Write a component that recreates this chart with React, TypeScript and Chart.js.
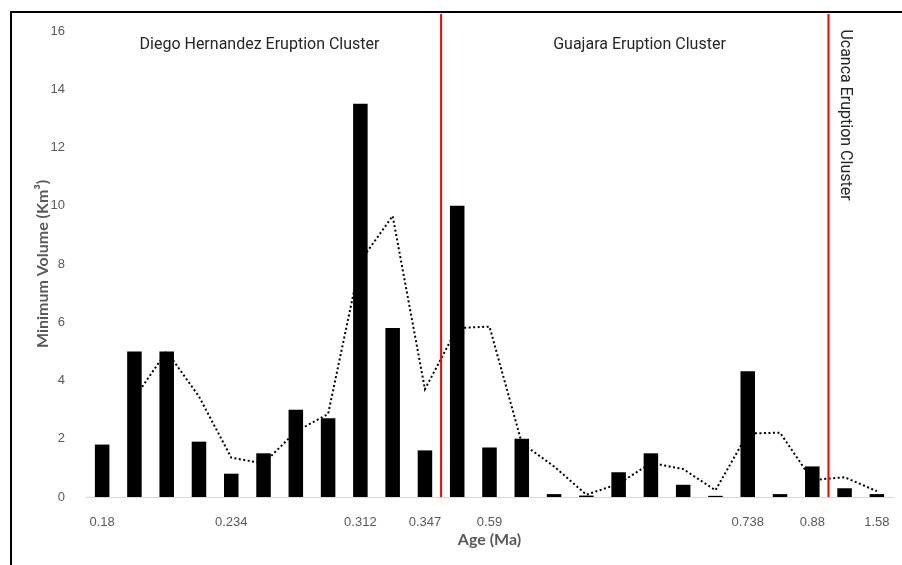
import React, { useEffect, useRef } from "react";
import { Chart, registerables } from "chart.js";

Chart.register(...registerables);

const categories: string[] = [
  "0.18", "", "", "", "0.234", "", "", "", "0.312", "", "0.347", "", "0.59",
  "", "", "", "", "", "", "", "0.738", "", "0.88", "", "1.58",
];

const volumes: number[] = [
  1.8, 5.0, 5.0, 1.9, 0.8, 1.5, 3.0, 2.7, 13.5, 5.8, 1.6, 10.0, 1.7,
  2.0, 0.1, 0.05, 0.85, 1.5, 0.42, 0.04, 4.32, 0.1, 1.05, 0.3, 0.1,
];

// 2-period moving average trendline
const movingAvg: (number | null)[] = [
  null, 3.4, 5.0, 3.45, 1.35, 1.15, 2.25, 2.85, 8.1, 9.65, 3.7, 5.8, 5.85,
  1.85, 1.05, 0.08, 0.45, 1.17, 0.96, 0.23, 2.18, 2.21, 0.58, 0.68, 0.2,
];

// cluster boundaries: between these category index pairs
const boundaries: [number, number][] = [
  [10, 11],
  [22, 23],
];

const clusterLabels = [
  { text: "Diego Hernandez Eruption Cluster", x: 259.5, y: 45, rotate: false },
  { text: "Guajara Eruption Cluster", x: 639.5, y: 45, rotate: false },
  { text: "Ucanca Eruption Cluster", x: 845, y: 115, rotate: true },
];

const yTickMax = 16;
const yTickStep = 2;

const GRAY = "#595959";

export default function App() {
  const ref = useRef<HTMLCanvasElement | null>(null);

  useEffect(() => {
    if (!ref.current) return;

    const overlay = {
      id: "overlay",
      beforeDraw(chart: any) {
        const ctx = chart.ctx;
        ctx.save();
        ctx.fillStyle = "#ffffff";
        ctx.fillRect(0, 0, chart.width, chart.height);
        ctx.strokeStyle = "#000000";
        ctx.lineWidth = 2;
        ctx.beginPath();
        ctx.moveTo(11, chart.height + 5);
        ctx.lineTo(11, 12);
        ctx.lineTo(chart.width + 5, 12);
        ctx.stroke();
        ctx.restore();
      },
      afterDatasetsDraw(chart: any) {
        const ctx = chart.ctx;
        const xs = chart.scales.x;
        const area = chart.chartArea;
        ctx.save();
        ctx.strokeStyle = "#ff0000";
        ctx.lineWidth = 2;
        for (const [a, b] of boundaries) {
          const px = (xs.getPixelForValue(a) + xs.getPixelForValue(b)) / 2;
          ctx.beginPath();
          ctx.moveTo(px, 14);
          ctx.lineTo(px, area.bottom);
          ctx.stroke();
        }
        ctx.fillStyle = "#262626";
        ctx.font = "16px Roboto";
        ctx.textAlign = "center";
        ctx.textBaseline = "middle";
        for (const l of clusterLabels) {
          ctx.save();
          ctx.translate(l.x, l.y);
          if (l.rotate) ctx.rotate(Math.PI / 2);
          ctx.fillText(l.text, 0, 0);
          ctx.restore();
        }
        ctx.restore();
      },
    };

    const chart = new Chart(ref.current, {
      type: "bar",
      data: {
        labels: categories,
        datasets: [
          {
            type: "bar",
            label: "Minimum Volume",
            data: volumes,
            backgroundColor: "#000000",
            barPercentage: 0.45,
            categoryPercentage: 1,
            order: 0,
          },
          {
            type: "line",
            label: "2 per. Mov. Avg.",
            data: movingAvg,
            borderColor: "#000000",
            borderWidth: 2,
            borderDash: [2, 2.5],
            pointRadius: 0,
            tension: 0,
            spanGaps: true,
            fill: false,
            order: 1,
          } as any,
        ],
      },
      options: {
        responsive: false,
        animation: false,
        layout: { padding: { left: 10, top: 31, right: 9, bottom: 0 } },
        plugins: {
          legend: { display: false },
          tooltip: { enabled: false },
        },
        scales: {
          x: {
            grid: { display: false },
            border: { display: true, color: "#d9d9d9", width: 1 },
            ticks: {
              autoSkip: false,
              maxRotation: 0,
              color: GRAY,
              padding: 10,
              font: { family: "'Liberation Sans', Arial", size: 13 },
            },
            title: {
              display: true,
              text: "Age (Ma)",
              color: GRAY,
              font: { family: "Lato", size: 16, weight: "bold" },
              padding: { top: 0, bottom: 16 },
            },
            afterFit(scale: any) {
              scale.height = 68;
            },
          },
          y: {
            min: 0,
            max: yTickMax,
            grid: { display: false },
            border: { display: false },
            ticks: {
              stepSize: yTickStep,
              color: GRAY,
              padding: 13,
              font: { family: "'Liberation Sans', Arial", size: 13 },
            },
            title: {
              display: true,
              text: "Minimum Volume (Km³)",
              color: GRAY,
              font: { family: "Lato", size: 16, weight: "bold" },
              padding: { top: 23, bottom: 0 },
            },
            afterFit(scale: any) {
              scale.width = 76;
            },
          },
        },
      },
      plugins: [overlay],
    });

    return () => chart.destroy();
  }, []);

  return (
    <div style={{ position: "absolute", left: 0, top: 0, width: 902, height: 565 }}>
      <canvas ref={ref} width={902} height={565} style={{ display: "block" }} />
    </div>
  );
}
